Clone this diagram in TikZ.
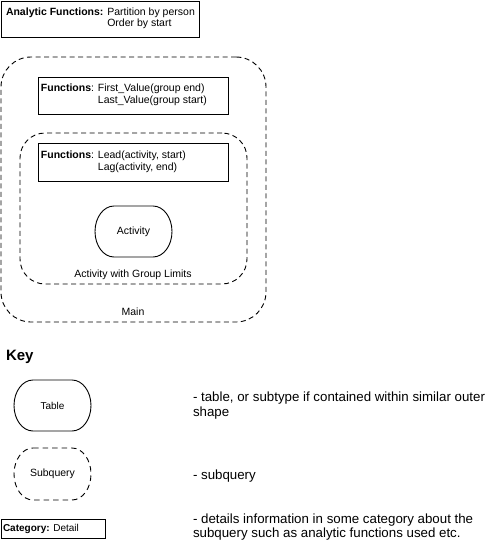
\documentclass[tikz,border=0pt]{standalone}
\usepackage{fontspec}
\setmainfont{Liberation Sans}
\begin{document}
\begin{tikzpicture}[x=1pt,y=-1pt,
  every node/.style={inner sep=0pt,outer sep=0pt},
  line width=0.9pt,
  solidbox/.style={draw, anchor=north west},
  dashbox/.style={draw, dash pattern=on 5pt off 3.5pt, anchor=north west},
  dashline/.style={dash pattern=on 5.5pt off 4pt},
  pillnode/.style={anchor=north west, minimum width=77pt, minimum height=51pt},
  ftxt/.style={font=\fontsize{10.5}{12}\selectfont},
  ktxt/.style={font=\fontsize{13.3}{15}\selectfont, anchor=west, align=left}]
\useasboundingbox (0,0) rectangle (490,544);

% Analytic functions box
\node[solidbox, minimum width=198pt, minimum height=36pt] (afbox) at (1,1) {};
\node[ftxt, anchor=west, font=\fontsize{10.5}{11}\selectfont] (aftext) at (6,19)
  {\begin{tabular}{@{}l@{ }l@{}}\textbf{Analytic Functions:} & Partition by person\\ & Order by start\end{tabular}};

% Main subquery
\node[dashbox, rounded corners=30pt, minimum width=265pt, minimum height=265pt] (main) at (1,57) {};
\node[solidbox, minimum width=190pt, minimum height=37pt] (fbox1) at (38,77) {};
\node[ftxt, anchor=west] (ftext1) at (41,95)
  {\begin{tabular}{@{}l@{ }l@{}}\textbf{Functions}: & First\_Value(group end)\\ & Last\_Value(group start)\end{tabular}};

% Inner subquery
\node[dashbox, rounded corners=25pt, minimum width=227pt, minimum height=151pt] (inner) at (20,133) {};
\node[solidbox, minimum width=190pt, minimum height=38pt] (fbox2) at (38,143) {};
\node[ftxt, anchor=west] (ftext2) at (41,162)
  {\begin{tabular}{@{}l@{ }l@{}}\textbf{Functions}: & Lead(activity, start)\\ & Lag(activity, end)\end{tabular}};

% Activity table
\node[pillnode] (act) at (95,206) {};
\draw ([xshift=19pt]act.north west) -- ([xshift=-19pt]act.north east)
  arc[start angle=90, end angle=-90, x radius=19pt, y radius=25.5pt]
  -- ([xshift=19pt]act.south west)
  arc[start angle=270, end angle=90, x radius=19pt, y radius=25.5pt] -- cycle;
\node[ftxt] (actlabel) at (act.center) {Activity};

\node[ftxt] (innerlabel) at (133,275) {Activity with Group Limits};
\node[ftxt] (mainlabel) at (133,312) {Main};

% Key
\node[font=\fontsize{15}{18}\selectfont\bfseries, anchor=west] (key) at (6,357) {Key};

\node[pillnode] (ktable) at (14,380) {};
\draw ([xshift=19pt]ktable.north west) -- ([xshift=-19pt]ktable.north east)
  arc[start angle=90, end angle=-90, x radius=19pt, y radius=25.5pt]
  -- ([xshift=19pt]ktable.south west)
  arc[start angle=270, end angle=90, x radius=19pt, y radius=25.5pt] -- cycle;
\node[ftxt, font=\fontsize{10}{12}\selectfont] (ktablelabel) at (ktable.center) {Table};

\node[pillnode, minimum height=52pt] (ksub) at (14,448) {};
\draw[dashline] ([xshift=19pt]ksub.north west) -- ([xshift=-19pt]ksub.north east)
  arc[start angle=90, end angle=-90, x radius=19pt, y radius=26pt]
  -- ([xshift=19pt]ksub.south west)
  arc[start angle=270, end angle=90, x radius=19pt, y radius=26pt] -- cycle;
\node[ftxt] (ksublabel) at (ksub.center) {Subquery};

\node[solidbox, minimum width=104pt, minimum height=19pt] (kcat) at (1,519) {};
\node[ftxt, font=\fontsize{10}{12}\selectfont, anchor=west] (kcatlabel) at (3,528.5) {\textbf{Category:} Detail};

\node[ktxt] (d1) at (193,405.5) {- table, or subtype if contained within similar outer\\shape};
\node[ktxt] (d2) at (193,476) {- subquery};
\node[ktxt, font=\fontsize{13.3}{14}\selectfont] (d3) at (193,527) {- details information in some category about the\\subquery such as analytic functions used etc.};
\end{tikzpicture}
\end{document}
